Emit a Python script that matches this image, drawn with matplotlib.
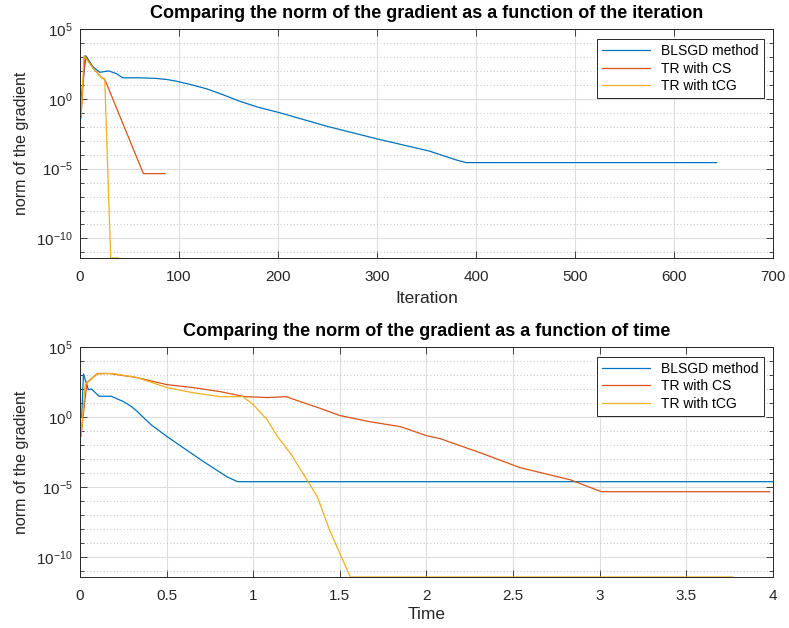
import numpy as np
import matplotlib
matplotlib.use("Agg")
import matplotlib.pyplot as plt
from matplotlib.ticker import FixedLocator, NullFormatter, FuncFormatter

plt.rcParams['font.family'] = ['Liberation Sans', 'DejaVu Sans']
plt.rcParams['mathtext.fontset'] = 'custom'
plt.rcParams['mathtext.rm'] = 'Liberation Sans'
plt.rcParams['mathtext.it'] = 'Liberation Sans:italic'

# --- data ---
# norm of the gradient vs iteration
blsgd_it = [1, 6, 13, 20, 29, 37, 43, 60, 77, 88, 98, 113, 128, 145, 161, 180, 202,
            249, 301, 353, 380, 390, 643]
blsgd_it_g = [1.0e0, 1.2e3, 2.0e2, 7.9e1, 1.0e2, 6.3e1, 3.2e1, 3.2e1, 2.9e1, 2.4e1,
              1.8e1, 1.0e1, 5.2e0, 1.9e0, 6.8e-1, 2.5e-1, 1.0e-1, 1.1e-2, 1.3e-3,
              1.8e-4, 4.2e-5, 2.7e-5, 2.7e-5]
cs_it = [1, 5, 13, 22, 25, 64, 86]
cs_it_g = [4.4e-2, 1.2e3, 1.6e2, 3.2e1, 2.5e1, 4.4e-6, 4.4e-6]
tcg_it = [1, 4, 8, 13, 22, 25, 31, 39]
tcg_it_g = [4.0e-2, 1.2e3, 5.0e2, 1.6e2, 3.2e1, 2.5e1, 4.0e-12, 4.0e-12]

# norm of the gradient vs time
blsgd_t = [0.01, 0.02, 0.048, 0.067, 0.11, 0.18, 0.25, 0.29, 0.33, 0.37, 0.41, 0.50,
           0.71, 0.85, 0.91, 4.0]
blsgd_t_g = [1.0e0, 1.2e3, 9.1e1, 1.0e2, 3.1e1, 3.1e1, 1.3e1, 6.5e0, 2.6e0, 8.5e-1,
             2.9e-1, 4.3e-2, 7.1e-4, 5.4e-5, 2.5e-5, 2.5e-5]
cs_t = [0.005, 0.04, 0.10, 0.17, 0.33, 0.50, 0.65, 0.81, 0.95, 1.08, 1.19, 1.27, 1.39,
        1.50, 1.67, 1.85, 2.0, 2.08, 2.31, 2.54, 2.83, 3.01, 3.98]
cs_t_g = [4.4e-2, 2.9e2, 1.3e3, 1.3e3, 6.6e2, 2.1e2, 1.3e2, 6.6e1, 2.9e1, 2.5e1, 2.9e1,
          1.3e1, 4.1e0, 1.3e0, 4.8e-1, 2.1e-1, 4.8e-2, 2.9e-2, 2.9e-3, 2.5e-4, 3.4e-5,
          4.8e-6, 4.8e-6]
tcg_t = [0.005, 0.03, 0.10, 0.19, 0.33, 0.50, 0.65, 0.81, 0.94, 1.0, 1.08, 1.14, 1.22,
         1.31, 1.37, 1.44, 1.56, 3.77]
tcg_t_g = [4.0e-2, 2.1e2, 1.2e3, 1.3e3, 6.6e2, 1.3e2, 5.6e1, 2.9e1, 2.9e1, 7.8e0, 6.6e-1,
           4.1e-2, 2.1e-3, 3.4e-5, 2.1e-6, 9.2e-9, 4.0e-12, 4.0e-12]

labels = ['BLSGD method', 'TR with CS', 'TR with tCG']
colors = ['#0072BD', '#D95319', '#EDB120']


def style_axes(ax, xlim, xticks, xtick_labels):
    ax.set_yscale('log')
    ax.set_xlim(xlim)
    ax.set_ylim(10 ** -11.4, 1e5)
    ax.xaxis.set_major_locator(FixedLocator(xticks))
    ax.set_xticklabels(xtick_labels)
    ax.yaxis.set_major_locator(FixedLocator([1e-10, 1e-5, 1e0, 1e5]))
    ax.yaxis.set_major_formatter(FuncFormatter(lambda v, p: r'$10^{%d}$' % round(np.log10(v))))
    ax.yaxis.set_minor_locator(FixedLocator([10.0 ** k for k in range(-11, 5)]))
    ax.yaxis.set_minor_formatter(NullFormatter())
    ax.tick_params(which='both', direction='in', top=True, right=True,
                   color='#262626', labelcolor='#262626')
    ax.tick_params(which='major', length=5, width=0.6, labelsize=11)
    ax.tick_params(axis='x', which='major', pad=8.5)
    ax.tick_params(axis='y', which='major', pad=5.5)
    ax.tick_params(which='minor', length=3, width=0.6)
    ax.grid(True, which='major', color='#dedede', linewidth=0.8)
    ax.grid(True, which='minor', axis='y', color='#b0b0b0', linestyle=(0, (1, 3)),
            linewidth=0.6)
    ax.set_axisbelow(True)
    for s in ax.spines.values():
        s.set_color('#262626')
        s.set_linewidth(0.7)
    ax.set_ylabel('norm of the gradient', fontsize=11.5, color='#262626', labelpad=5)


fig = plt.figure(figsize=(7.89, 6.28), dpi=100)
ax1 = fig.add_axes([0.1014, 0.5892, 0.8783, 0.3646])
ax2 = fig.add_axes([0.1014, 0.0812, 0.8783, 0.3662])

for x, y, c, l in zip([blsgd_it, cs_it, tcg_it], [blsgd_it_g, cs_it_g, tcg_it_g], colors, labels):
    ax1.plot(x, y, color=c, linewidth=0.9, label=l)
for x, y, c, l in zip([blsgd_t, cs_t, tcg_t], [blsgd_t_g, cs_t_g, tcg_t_g], colors, labels):
    ax2.plot(x, y, color=c, linewidth=0.9, label=l)

style_axes(ax1, (0, 700), [0, 100, 200, 300, 400, 500, 600, 700],
           ['0', '100', '200', '300', '400', '500', '600', '700'])
style_axes(ax2, (0, 4), [0, 0.5, 1, 1.5, 2, 2.5, 3, 3.5, 4],
           ['0', '0.5', '1', '1.5', '2', '2.5', '3', '3.5', '4'])

ax1.set_xlabel('Iteration', fontsize=12.5, color='#262626', labelpad=5)
ax2.set_xlabel('Time', fontsize=12.5, color='#262626', labelpad=3)
ax1.set_title('Comparing the norm of the gradient as a function of the iteration',
              fontsize=13, fontweight='bold', pad=8)
ax2.set_title('Comparing the norm of the gradient as a function of time',
              fontsize=13, fontweight='bold', pad=8)

for ax, top in ((ax1, 0.955), (ax2, 0.957)):
    leg = ax.legend(loc='upper right', bbox_to_anchor=(0.9865, top), fontsize=10,
                    handlelength=3.5, handletextpad=0.8, borderpad=0.35,
                    labelspacing=0.25, fancybox=False, framealpha=1,
                    edgecolor='#262626', borderaxespad=0)
    leg.get_frame().set_linewidth(0.7)

fig.savefig('out.png', dpi=100)
